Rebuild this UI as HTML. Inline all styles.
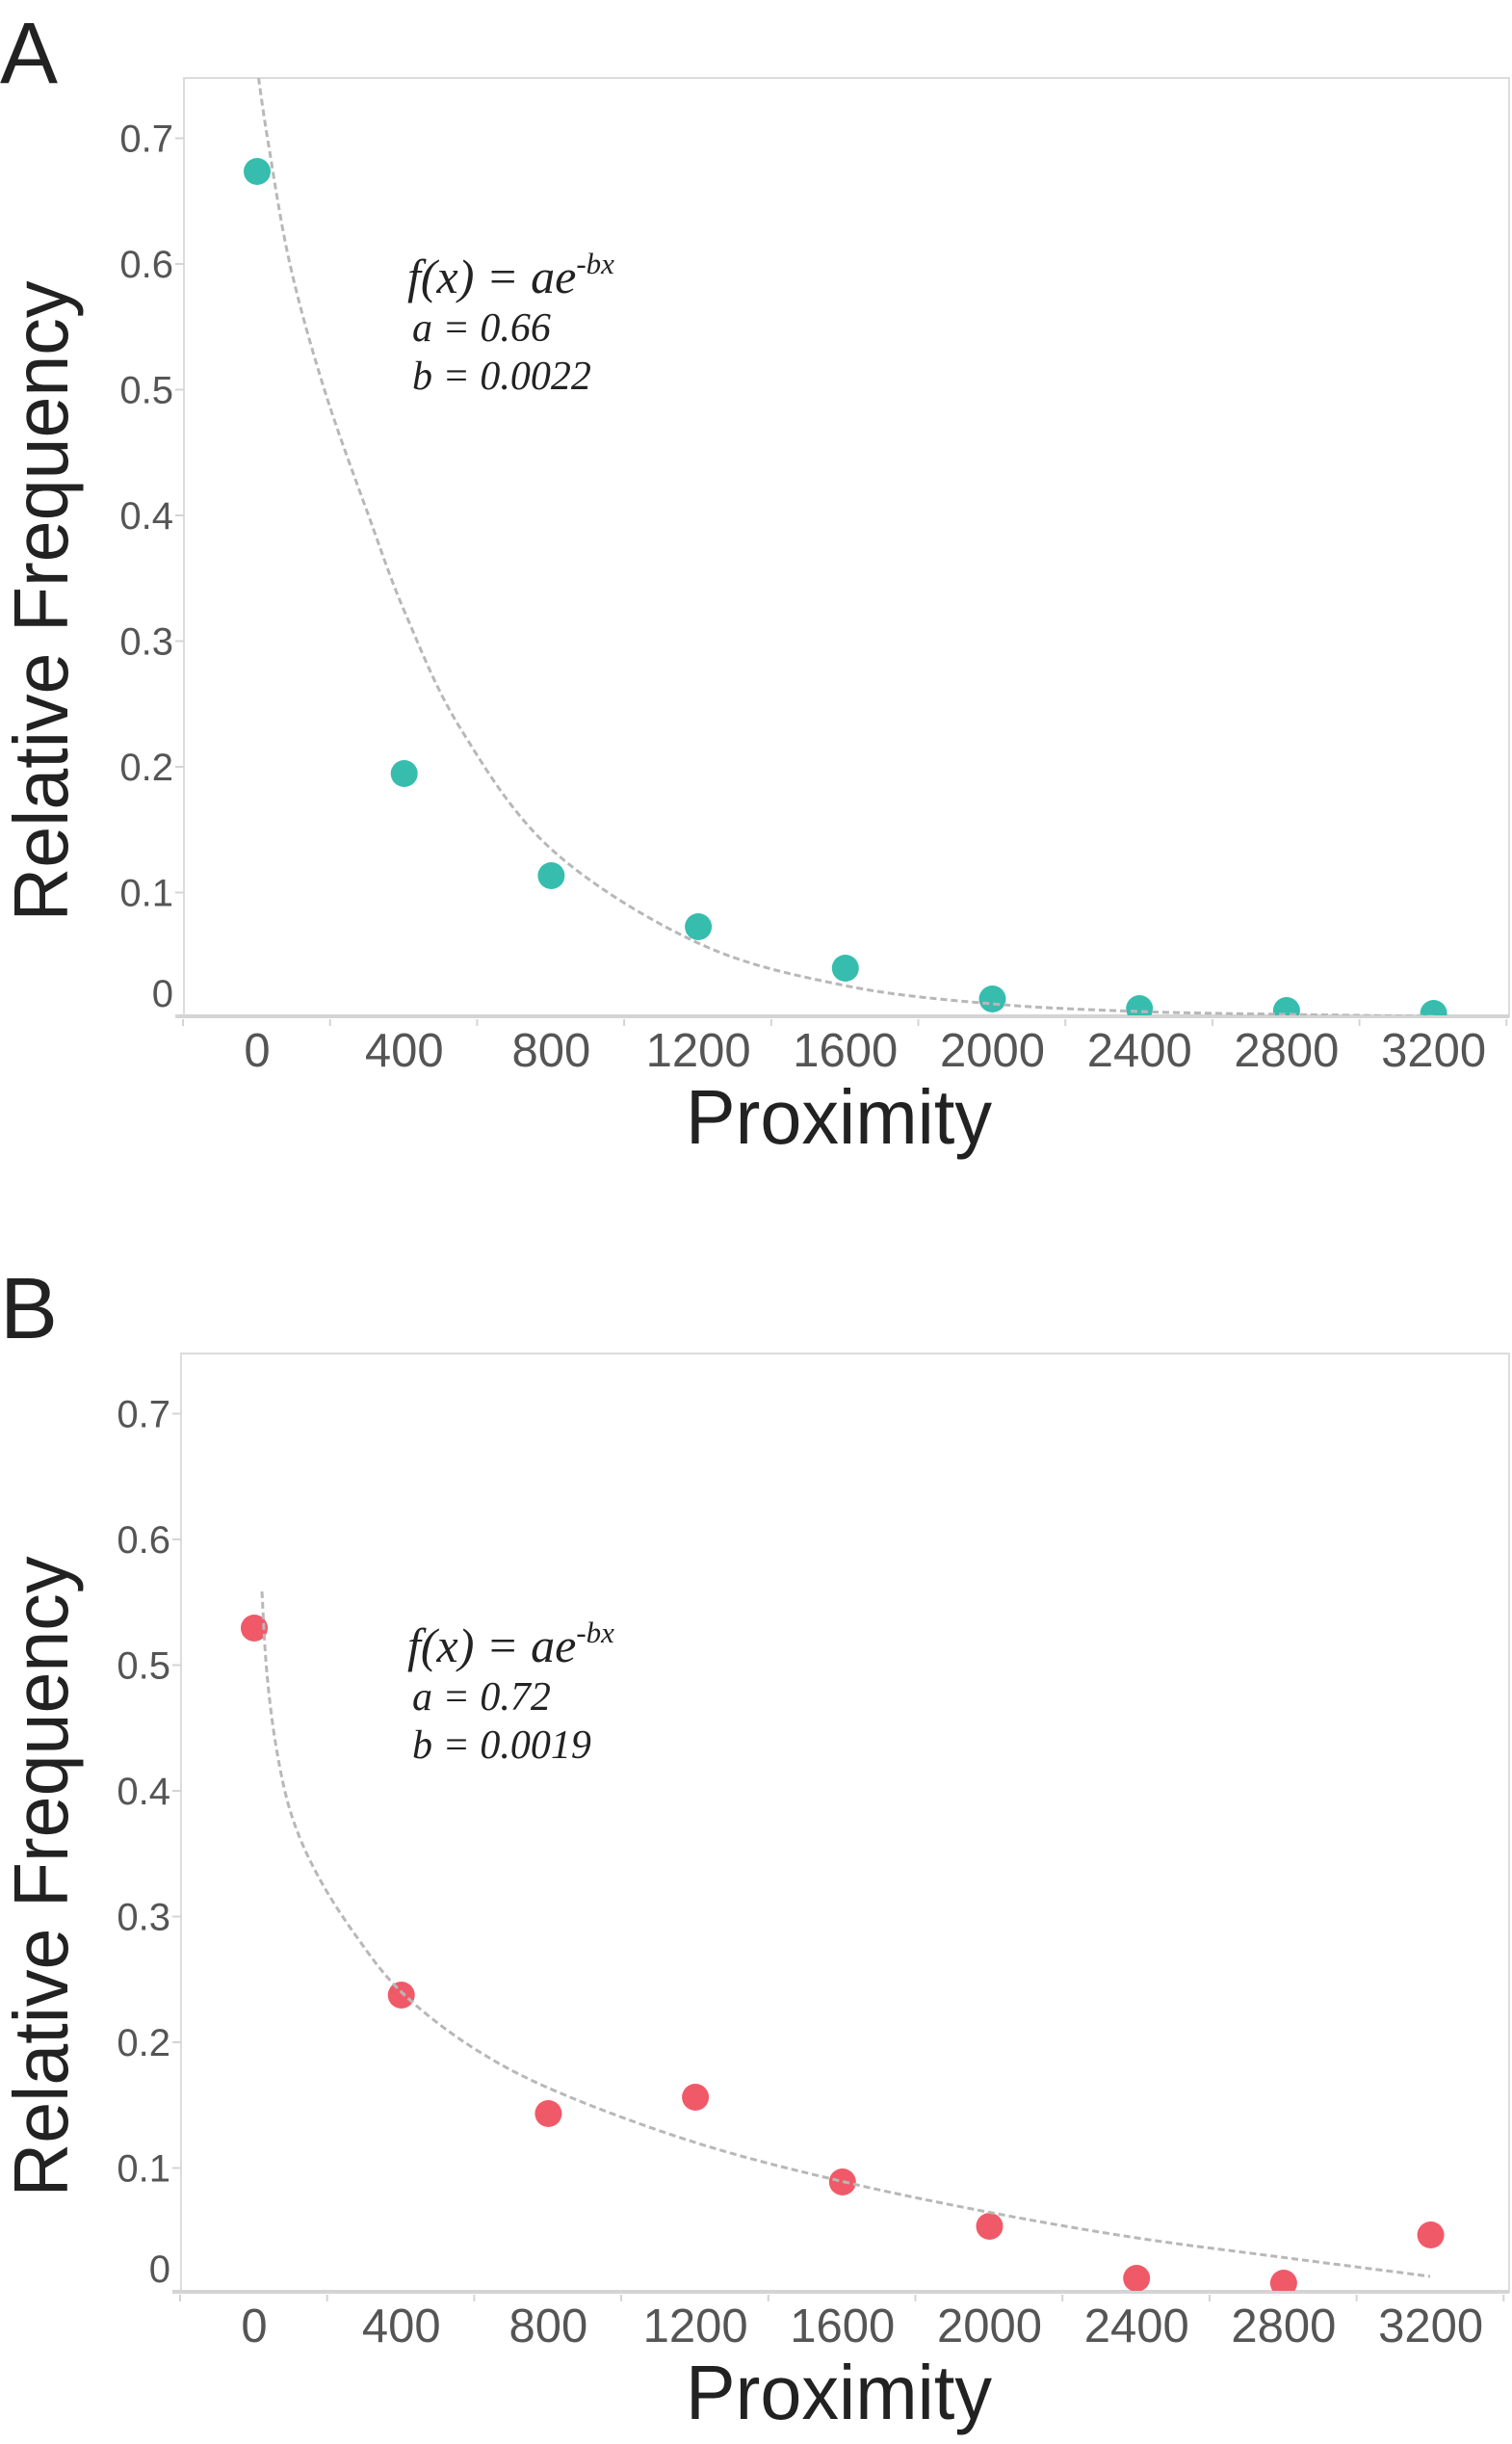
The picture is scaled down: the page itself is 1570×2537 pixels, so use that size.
<!DOCTYPE html>
<html><head><meta charset="utf-8"><style>html,body{margin:0;padding:0;background:#fff}svg{display:block}</style></head>
<body>
<svg id="s" width="1570" height="2537" xmlns="http://www.w3.org/2000/svg" font-family="Liberation Sans, sans-serif">
<defs>
<clipPath id="cA"><rect x="191" y="81" width="1376" height="973"/></clipPath>
<clipPath id="cB"><rect x="188" y="1405" width="1376" height="973"/></clipPath>
</defs>
</svg>
<script>
const NS="http://www.w3.org/2000/svg",s=document.getElementById("s");
function el(t,a,txt,p){const e=document.createElementNS(NS,t);for(const k in a)e.setAttribute(k,a[k]);if(txt!==undefined)e.textContent=txt;(p||s).appendChild(e);return e;}
function cr(pts){let d="M"+pts[0][0]+","+pts[0][1];for(let i=0;i<pts.length-1;i++){const p0=pts[Math.max(0,i-1)],p1=pts[i],p2=pts[i+1],p3=pts[Math.min(pts.length-1,i+2)];d+=" C"+(p1[0]+(p2[0]-p0[0])/6)+","+(p1[1]+(p2[1]-p0[1])/6)+" "+(p2[0]-(p3[0]-p1[0])/6)+","+(p2[1]-(p3[1]-p1[1])/6)+" "+p2[0]+","+p2[1];}return d;}
function panel(o){
 const L=o.L,T=o.T,R=1567,A=o.A,dx=o.dx;
 el("text",{x:0,y:o.letY,"font-size":90,fill:"#222"},o.letter);
 el("rect",{x:L,y:T,width:R-L,height:A-T,fill:"none",stroke:"#dcdcdc","stroke-width":2});
 el("line",{x1:L-9,y1:A,x2:R,y2:A,stroke:"#d4d4d4","stroke-width":4});
 for(let i=0;i<10;i++){const x=L-1+i*152.7;el("line",{x1:x,y1:A+3,x2:x,y2:A+10,stroke:"#d4d4d4","stroke-width":2});}
 const z=o.z;
 for(let k=1;k<=7;k++){const y=z-k*130.5;el("line",{x1:L-9,y1:y,x2:L,y2:y,stroke:"#d4d4d4","stroke-width":2});
  el("text",{x:180+(L-191),y:y+14,"font-size":40,fill:"#555","text-anchor":"end"},"0."+k);}
 el("text",{x:180+(L-191),y:A-10,"font-size":40,fill:"#555","text-anchor":"end"},"0");
 const labs=["0","400","800","1200","1600","2000","2400","2800","3200"];
 labs.forEach((t,i)=>el("text",{x:dx+i*152.7,y:A+52,"font-size":49,fill:"#555","text-anchor":"middle"},t));
 el("text",{x:871,y:A+132,"font-size":80,fill:"#222","text-anchor":"middle",textLength:318,lengthAdjust:"spacingAndGlyphs"},"Proximity");
 el("text",{x:0,y:0,"font-size":80,fill:"#222","text-anchor":"middle",transform:"translate(70,"+(o.T+543)+") rotate(-90)",textLength:665,lengthAdjust:"spacingAndGlyphs"},"Relative Frequency");
 const g=el("g",{"clip-path":"url(#"+o.clip+")"});
 o.pts.forEach((y,i)=>el("circle",{cx:dx+i*152.7,cy:y,r:14,fill:o.col},undefined,g));
 el("path",{d:cr(o.curve),fill:"none",stroke:"#b8b8b8","stroke-width":3,"stroke-dasharray":"7,4"},undefined,g);
 const fs="font-family:'Liberation Serif',serif;font-style:italic;fill:#222";
 const t=el("text",{x:423,y:o.fy,"font-size":50,style:fs});
 el("tspan",{},"f(x) = ae",t);el("tspan",{dy:-20,"font-size":31},"-bx",t);
 el("text",{x:428,y:o.fy+50,"font-size":42,style:fs},o.a);
 el("text",{x:428,y:o.fy+100,"font-size":42,style:fs},o.b);
}
panel({letter:"A",letY:86,L:191,T:81,A:1055,z:1057,dx:267,clip:"cA",col:"#36bdae",
 pts:[178,803,909,962,1005,1037,1047,1049,1052],
 curve:[[267,70],[278,145],[301,274],[337,405],[383,536],[421,637],[478,756],[573,882],[725,979],[877,1023],[1030,1042],[1183,1050],[1336,1053],[1490,1055]],
 fy:304,a:"a = 0.66",b:"b = 0.0022"});
panel({letter:"B",letY:1389,L:188,T:1405,A:2379,z:2381,dx:264,clip:"cB",col:"#f05a68",
 pts:[1690,2071,2194,2177,2265,2311,2365,2370,2320],
 curve:[[272,1652],[277,1735],[287,1815],[303,1885],[330,1947],[370,2010],[417,2068],[490,2125],[580,2172],[725,2225],[877,2265],[1030,2297],[1180,2323],[1330,2343],[1485,2363]],
 fy:1725,a:"a = 0.72",b:"b = 0.0019"});
</script>
</body></html>
